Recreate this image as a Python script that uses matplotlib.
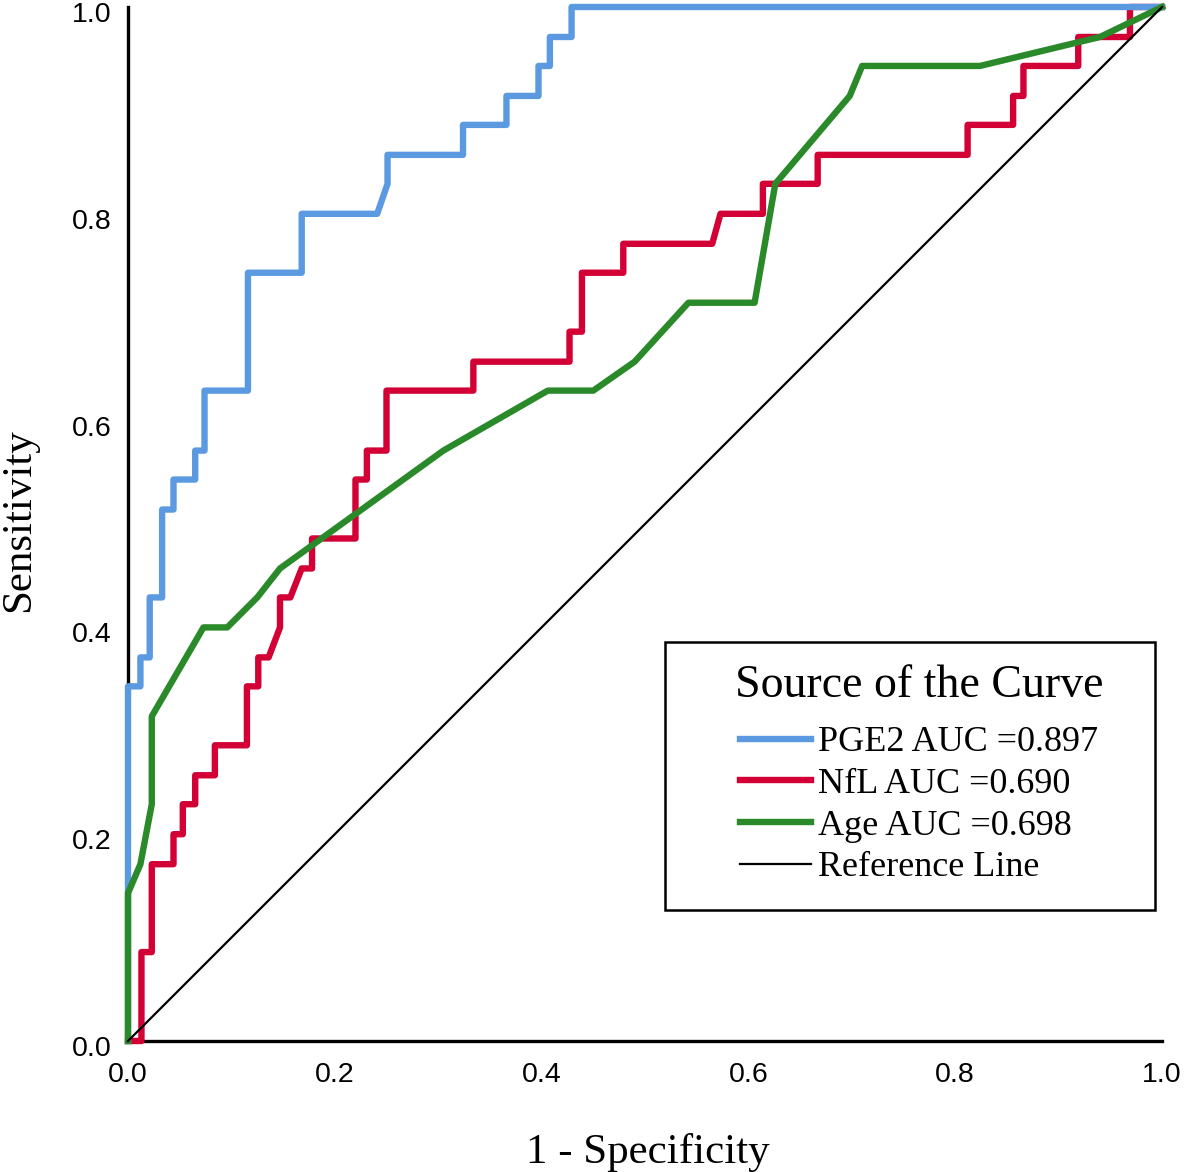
import numpy as np
from matplotlib import pyplot as plt
from matplotlib.patches import Rectangle
from matplotlib.transforms import ScaledTranslation

# ROC points (1 - specificity, sensitivity)
pge2_fpr = [0, 0, 0.012, 0.012, 0.021, 0.021, 0.033, 0.033, 0.044, 0.044, 0.065, 0.065,
            0.074, 0.074, 0.116, 0.116, 0.168, 0.168, 0.241, 0.251, 0.251, 0.324, 0.324,
            0.366, 0.366, 0.397, 0.397, 0.408, 0.408, 0.429, 0.429, 1.0]
pge2_tpr = [0, 0.343, 0.343, 0.371, 0.371, 0.429, 0.429, 0.514, 0.514, 0.543, 0.543, 0.571,
            0.571, 0.629, 0.629, 0.743, 0.743, 0.800, 0.800, 0.829, 0.857, 0.857, 0.886,
            0.886, 0.914, 0.914, 0.943, 0.943, 0.971, 0.971, 1.0, 1.0]

nfl_fpr = [0, 0.013, 0.013, 0.023, 0.023, 0.044, 0.044, 0.053, 0.053, 0.065, 0.065, 0.084,
           0.084, 0.115, 0.115, 0.126, 0.126, 0.136, 0.147, 0.147, 0.157, 0.168, 0.178,
           0.178, 0.220, 0.220, 0.231, 0.231, 0.250, 0.250, 0.334, 0.334, 0.427, 0.427,
           0.439, 0.439, 0.479, 0.479, 0.565, 0.573, 0.614, 0.614, 0.667, 0.667, 0.812,
           0.812, 0.856, 0.856, 0.866, 0.866, 0.919, 0.919, 0.969, 0.969, 1.0]
nfl_tpr = [0, 0, 0.086, 0.086, 0.171, 0.171, 0.200, 0.200, 0.229, 0.229, 0.257, 0.257,
           0.286, 0.286, 0.343, 0.343, 0.371, 0.371, 0.400, 0.429, 0.429, 0.457, 0.457,
           0.486, 0.486, 0.543, 0.543, 0.571, 0.571, 0.629, 0.629, 0.657, 0.657, 0.686,
           0.686, 0.743, 0.743, 0.771, 0.771, 0.800, 0.800, 0.829, 0.829, 0.857, 0.857,
           0.886, 0.886, 0.914, 0.914, 0.943, 0.943, 0.971, 0.971, 1.0, 1.0]

age_fpr = [0, 0, 0.012, 0.023, 0.023, 0.073, 0.096, 0.125, 0.147, 0.305, 0.406, 0.450,
           0.490, 0.542, 0.606, 0.626, 0.698, 0.710, 0.824, 0.940, 1.0]
age_tpr = [0, 0.143, 0.171, 0.229, 0.314, 0.400, 0.400, 0.429, 0.457, 0.571, 0.629, 0.629,
           0.657, 0.714, 0.714, 0.829, 0.914, 0.943, 0.943, 0.971, 1.0]

labels = ["PGE2 AUC =0.897", "NfL AUC =0.690", "Age AUC =0.698", "Reference Line"]
colours = ["#5B9AE1", "#D30035", "#2A8A2A"]

fig = plt.figure(figsize=(11.84, 11.72), dpi=100)
ax = fig.add_axes([128 / 1184, 1 - 1041 / 1172, 1034 / 1184, 1034 / 1172])

lw = 4.6
ax.plot(pge2_fpr, pge2_tpr, color=colours[0], lw=lw, label=labels[0], clip_on=False, zorder=4)
ax.plot(nfl_fpr, nfl_tpr, color=colours[1], lw=lw, label=labels[1], clip_on=False, zorder=3)
ax.plot(age_fpr, age_tpr, color=colours[2], lw=lw, label=labels[2], clip_on=False, zorder=5)
ax.plot([0, 1], [0, 1], color="black", lw=1.6, label=labels[3], clip_on=False, zorder=6)

ticks = np.arange(0, 1.01, 0.2)
ax.set_xlim(0, 1)
ax.set_ylim(0, 1)
ax.set_xticks(ticks)
ax.set_yticks(ticks)
ax.set_xticklabels(["%.1f" % v for v in ticks])
ax.set_yticklabels(["%.1f" % v for v in ticks])
ax.tick_params(length=0, labelsize=20.5)
ax.tick_params(axis="x", pad=15)
ax.tick_params(axis="y", pad=12)
shift = ScaledTranslation(0, -5 / 100, fig.dpi_scale_trans)
for t in ax.get_xticklabels() + ax.get_yticklabels():
    t.set_family(["Liberation Sans", "DejaVu Sans"])
for t in ax.get_yticklabels():
    t.set_transform(t.get_transform() + shift)

for s in ["top", "right"]:
    ax.spines[s].set_visible(False)
for s in ["left", "bottom"]:
    ax.spines[s].set_linewidth(2.4)
    ax.spines[s].set_zorder(2)

serif = ["Liberation Serif", "DejaVu Serif"]
ax.set_xlabel("1 - Specificity", fontsize=31, family=serif)
ax.set_ylabel("Sensitivity", fontsize=31, family=serif)
ax.xaxis.set_label_coords(0.503, -0.108)
ax.yaxis.set_label_coords(-0.106, 0.504)
ax.xaxis.label.set_va("center")
ax.yaxis.label.set_va("center")

# legend box drawn separately so its size can be set on its own
ax.add_patch(Rectangle((0.519, 0.127), 0.474, 0.259, transform=ax.transAxes,
                       fill=False, edgecolor="black", lw=1.8, clip_on=False, zorder=7))
leg = ax.legend(loc="center", bbox_to_anchor=(0.765, 0.258), frameon=False,
                title="Source of the Curve", prop={"family": serif, "size": 26},
                title_fontproperties={"family": serif, "size": 33},
                handlelength=1.95, handletextpad=0.2, labelspacing=0.23, borderpad=0.2)
leg._legend_box.sep = 14

fig.savefig("out.png", dpi=100)
